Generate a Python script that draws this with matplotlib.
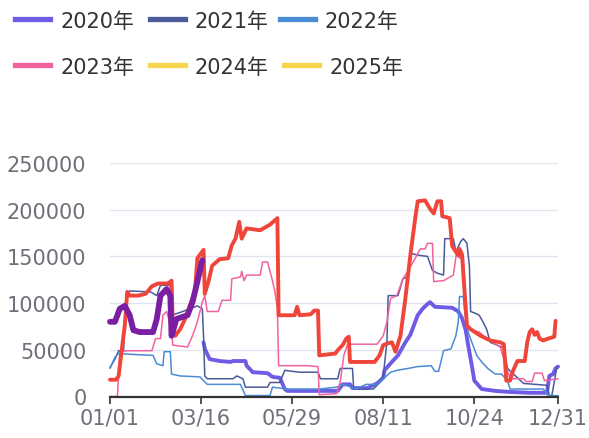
import matplotlib
matplotlib.use("Agg")
import matplotlib.pyplot as plt
from matplotlib.lines import Line2D

plt.rcParams['font.family'] = ['DejaVu Sans', 'Noto Sans CJK SC']

# ---------------- data ----------------
tick_idx = [0, 74, 148, 222, 296, 364]
tick_labels = ["01/01", "03/16", "05/29", "08/11", "10/24", "12/31"]
y_ticks = [0, 50000, 100000, 150000, 200000, 250000]

legend_names = ["2020年", "2021年", "2022年", "2023年", "2024年", "2025年"]
legend_colors = ["#6e5ce6", "#4b5a9b", "#4a8bd6", "#f2629f", "#f5d44e", "#f5d44e"]

d2020 = [76, 77, 81, 89, 98, 100, 110, 111, 116, 128, 132, 138, 142, 144, 185, 189, 195, 197,
         209, 217, 222, 223, 229, 234, 240, 244, 248, 250, 254, 258, 260, 264, 278, 283, 286,
         289, 291, 294, 296, 302, 313, 323, 341, 355, 357, 360, 362, 364]
v2020 = [58000, 51000, 40000, 38000, 37000, 38000, 38000, 33000, 26000, 25000, 21000, 20000,
         8000, 6000, 6000, 13000, 13000, 9000, 9000, 14000, 20000, 28000, 37000, 44000, 58000,
         66000, 80000, 87000, 94000, 99000, 101000, 96000, 95000, 91000, 84000, 71000, 55000,
         33000, 17000, 8000, 6000, 5000, 4000, 4000, 22000, 24000, 30000, 32000]

d2021 = [0, 4, 7, 11, 13, 16, 33, 38, 41, 49, 50, 57, 65, 71, 75, 76, 77, 79, 100, 103, 108,
         110, 128, 130, 138, 142, 154, 169, 171, 185, 187, 197, 198, 214, 219, 222, 225, 226,
         234, 238, 242, 245, 252, 258, 262, 266, 271, 272, 279, 281, 285, 287, 290, 292, 293,
         297, 300, 303, 306, 309, 320, 323, 336, 355, 357, 359, 363]
v2021 = [31000, 40000, 49000, 49000, 108000, 113000, 112000, 108000, 119000, 119000, 87000,
         90000, 94000, 97000, 94000, 65000, 22000, 19000, 19000, 22000, 19000, 10000, 10000,
         15000, 15000, 28000, 26000, 26000, 19000, 19000, 30000, 30000, 8000, 8000, 15000,
         22000, 58000, 108000, 108000, 126000, 128000, 153000, 151000, 150000, 135000, 132000,
         130000, 169000, 169000, 155000, 166000, 169000, 164000, 140000, 91000, 89000, 87000,
         80000, 72000, 58000, 52000, 30000, 14000, 12000, 1000, 1000, 31000]

d2022 = [0, 4, 7, 19, 35, 38, 43, 44, 49, 50, 57, 73, 76, 79, 106, 110, 130, 132, 144, 170,
         184, 190, 200, 208, 217, 222, 228, 233, 242, 250, 261, 264, 267, 271, 277, 281, 283,
         284, 287, 288, 291, 294, 298, 302, 307, 313, 318, 323, 325, 352, 356, 364]
v2022 = [30000, 42000, 46000, 45000, 44000, 35000, 33000, 48000, 48000, 24000, 22000, 21000,
         17000, 13000, 13000, 1000, 1000, 10000, 8000, 8000, 10000, 13000, 8000, 13000, 13000,
         19000, 26000, 28000, 30000, 32000, 33000, 27000, 27000, 49000, 51000, 65000, 80000,
         107000, 107000, 94000, 69000, 58000, 44000, 37000, 30000, 24000, 24000, 17000, 8000,
         8000, 1000, 1000]

d2023 = [0, 6, 8, 14, 34, 37, 41, 43, 46, 50, 51, 63, 67, 71, 75, 77, 79, 88, 91, 98, 99, 106,
         107, 109, 111, 122, 124, 128, 132, 134, 136, 137, 160, 169, 170, 184, 187, 190, 193,
         217, 222, 225, 228, 233, 238, 242, 248, 252, 256, 258, 262, 263, 271, 279, 282, 284,
         287, 290, 294, 300, 306, 317, 323, 325, 336, 338, 343, 345, 351, 353, 364]
v2023 = [0, 0, 48000, 49000, 49000, 62000, 62000, 87000, 91000, 72000, 55000, 53000, 65000,
         80000, 101000, 108000, 91000, 91000, 103000, 103000, 126000, 128000, 134000, 124000,
         130000, 130000, 144000, 144000, 124000, 112000, 94000, 33000, 33000, 32000, 2000,
         3000, 15000, 44000, 56000, 56000, 65000, 80000, 105000, 108000, 126000, 134000,
         148000, 158000, 158000, 164000, 164000, 123000, 124000, 130000, 158000, 148000,
         151000, 76000, 71000, 69000, 62000, 53000, 28000, 19000, 19000, 16000, 16000, 25000,
         25000, 17000, 19000]

d2024 = [0, 5, 7, 9, 12, 14, 16, 23, 29, 34, 39, 47, 50, 51, 53, 57, 61, 65, 69, 71, 76, 77,
         80, 83, 89, 96, 99, 102, 105, 107, 111, 122, 130, 136, 137, 150, 152, 154, 163, 166,
         169, 170, 183, 186, 189, 192, 194, 195, 215, 219, 222, 226, 229, 232, 236, 240, 244,
         248, 250, 256, 260, 263, 266, 269, 270, 276, 278, 283, 284, 286, 290, 293, 301, 309,
         317, 320, 322, 325, 327, 331, 337, 339, 341, 343, 345, 347, 349, 352, 356, 361, 362]
v2024 = [18000, 18000, 22000, 44000, 76000, 112000, 108000, 108000, 110000, 118000, 121000,
         121000, 124000, 76000, 65000, 72000, 83000, 98000, 112000, 148000, 157000, 110000,
         123000, 140000, 147000, 148000, 162000, 169000, 187000, 169000, 180000, 178000,
         184000, 191000, 87000, 87000, 96000, 87000, 88000, 92000, 92000, 44000, 46000, 51000,
         55000, 62000, 64000, 37000, 37000, 44000, 55000, 57000, 58000, 48000, 65000, 105000,
         151000, 191000, 209000, 210000, 201000, 196000, 209000, 209000, 193000, 191000,
         161000, 151000, 158000, 152000, 76000, 72000, 65000, 60000, 58000, 56000, 17000,
         17000, 26000, 38000, 38000, 58000, 69000, 72000, 66000, 69000, 62000, 60000, 62000,
         64000, 81000]

d2025 = [0, 4, 8, 12, 16, 19, 24, 35, 38, 41, 46, 49, 50, 54, 63, 67, 71, 75]
v2025 = [80000, 80000, 94000, 97000, 87000, 71000, 69000, 69000, 83000, 108000, 115000,
         108000, 65000, 83000, 87000, 101000, 123000, 146000]

line_colors = ["#6e5ce6", "#4b5a9b", "#4a8bd6", "#f2629f", "#f0453b", "#7b1fa2"]
line_widths = [2.8, 1.1, 1.1, 1.1, 2.8, 4.2]

# ---------------- figure ----------------
W, H = 589, 439
fig = plt.figure(figsize=(W / 100, H / 100), dpi=100)
x0, x1, y_top, y_bot = 110, 558, 164, 397.5
ax = fig.add_axes([x0 / W, (H - y_bot) / H, (x1 - x0) / W, (y_bot - y_top) / H])

series = [(d2020, v2020), (d2021, v2021), (d2022, v2022), (d2023, v2023),
          (d2024, v2024), (d2025, v2025)]
for i, (d, v) in enumerate(series):
    ax.plot(d, v, color=line_colors[i], lw=line_widths[i], solid_joinstyle='round',
            solid_capstyle='round', zorder=3 + i, clip_on=False)

ax.set_xlim(0, 364)
ax.set_ylim(0, 250000)
ax.set_yticks(y_ticks)
ax.set_yticklabels([str(t) for t in y_ticks])
ax.set_xticks(tick_idx)
ax.set_xticklabels(tick_labels)
ax.grid(axis='y', color='#e0e6f1', lw=1.0, zorder=0)
ax.set_axisbelow(True)
for s in ['left', 'right', 'top']:
    ax.spines[s].set_visible(False)
ax.spines['bottom'].set_color('#333333')
ax.spines['bottom'].set_linewidth(1.6)
ax.spines['bottom'].set_zorder(20)
ax.tick_params(axis='y', length=0, pad=17, labelsize=15, labelcolor='#6e7079')
ax.tick_params(axis='x', length=5, width=1.2, color='#333333', pad=3,
               labelsize=15, labelcolor='#6e7079')

# ---------------- legend ----------------
leg_pos = [(15, 20, 60), (150, 20, 195), (280, 20, 325),
           (15, 66, 60), (150, 66, 195), (284, 66, 329)]
for (hx, hy, tx), name, col in zip(leg_pos, legend_names, legend_colors):
    fig.add_artist(Line2D([hx / W, (hx + 35) / W], [1 - hy / H, 1 - hy / H],
                          color=col, lw=3.8, transform=fig.transFigure))
    fig.text(tx / W, 1 - (hy + 2) / H, name, fontsize=15, color='#333333',
             va='center', ha='left')

fig.savefig("out.png", dpi=100)
